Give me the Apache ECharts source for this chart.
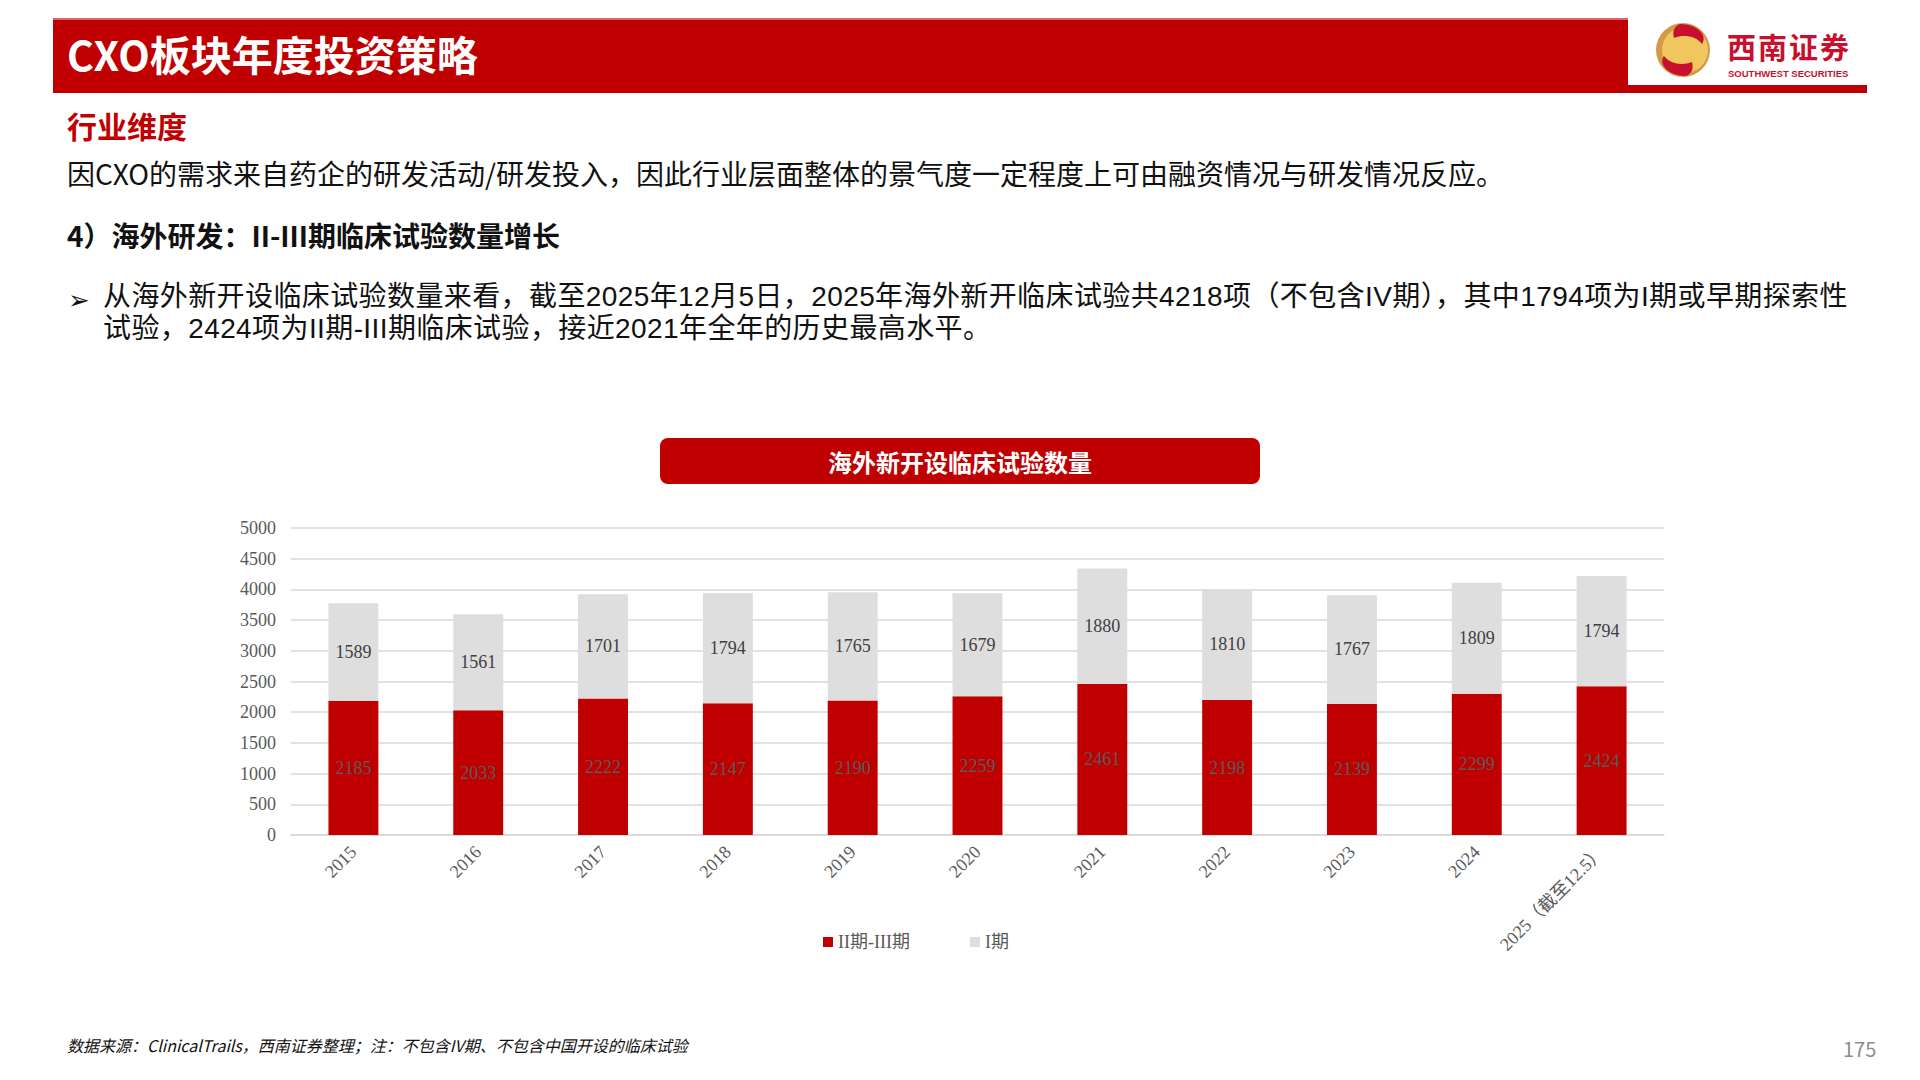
<!DOCTYPE html>
<html>
<head>
<meta charset="utf-8">
<script src="https://cdn.jsdelivr.net/npm/echarts@6/dist/echarts.min.js"></script>
<style>
  html, body { margin: 0; padding: 0; width: 1920px; height: 1080px; background: #ffffff; overflow: hidden; }
  #chart { position: absolute; left: 0; top: 0; width: 1920px; height: 1080px; }
  .t { position: absolute; white-space: nowrap; font-family: "Noto Sans CJK SC", "Noto Sans", sans-serif; }
  .b { font-family: "Liberation Sans", "Noto Sans CJK SC", sans-serif; }
</style>
</head>
<body>
<div id="chart"></div>

<!-- header -->
<div style="position:absolute;left:53px;top:18px;width:1575px;height:75px;background:#C00000;border-top:2px solid #D9676A;box-sizing:border-box;"></div>
<div style="position:absolute;left:1628px;top:85px;width:239px;height:8px;background:#C00000;"></div>
<div class="t" style="left:67px;top:19px;height:68px;line-height:68px;font-size:41px;font-weight:bold;color:#ffffff;">CXO板块年度投资策略</div>

<!-- logo -->
<svg style="position:absolute;left:1650px;top:18px;" width="220" height="66" viewBox="0 0 220 66">
  <circle cx="33" cy="32" r="27" fill="#D39A45"/>
  <circle cx="35" cy="32" r="23" fill="#F0C75E"/>
  <path d="M30 6 C48 6 58 18 52 26 C46 18 34 16 24 20 C22 12 25 8 30 6 Z" fill="#C8102E"/>
  <path d="M36 58 C18 58 8 46 14 38 C20 46 32 48 42 44 C44 52 41 56 36 58 Z" fill="#C8102E"/>
  <text x="77" y="41" font-family="Noto Sans CJK SC" font-weight="bold" font-size="29" fill="#C8102E" letter-spacing="2">西南证券</text>
  <text x="78" y="59" font-family="Liberation Sans, Arial" font-weight="bold" font-size="9.5" fill="#C8102E">SOUTHWEST SECURITIES</text>
</svg>

<!-- texts -->
<div class="t" style="left:67px;top:107px;font-size:30px;line-height:36px;font-weight:bold;color:#C00000;">行业维度</div>
<div class="t" style="left:67px;top:157px;font-size:28px;line-height:32px;color:#111111;">因CXO的需求来自药企的研发活动/研发投入，因此行业层面整体的景气度一定程度上可由融资情况与研发情况反应。</div>
<div class="t" style="left:67px;top:219px;font-size:28px;line-height:32px;font-weight:bold;color:#111111;">4）海外研发：II-III期临床试验数量增长</div>
<div class="t" style="left:68px;top:283px;font-size:26px;line-height:30px;color:#111111;">➢</div>
<div class="t b" style="left:103px;top:281px;font-size:28px;line-height:32px;color:#111111;letter-spacing:0.4px;">从海外新开设临床试验数量来看，截至2025年12月5日，2025年海外新开临床试验共4218项（不包含IV期），其中1794项为I期或早期探索性</div>
<div class="t b" style="left:103px;top:313px;font-size:28px;line-height:32px;color:#111111;letter-spacing:0.4px;">试验，2424项为II期-III期临床试验，接近2021年全年的历史最高水平。</div>

<div class="t" style="left:67px;top:1033px;font-size:16px;line-height:24px;font-style:italic;color:#111111;">数据来源：ClinicalTrails，西南证券整理；注：不包含IV期、不包含中国开设的临床试验</div>
<div class="t" style="left:1843px;top:1036px;font-size:20px;line-height:26px;color:#8C8C8C;">175</div>

<script>
const categories = ['2015', '2016', '2017', '2018', '2019', '2020', '2021', '2022', '2023', '2024', '2025（截至12.5）'];
const phase23 = [2185, 2033, 2222, 2147, 2190, 2259, 2461, 2198, 2139, 2299, 2424];
const phase1 = [1589, 1561, 1701, 1794, 1765, 1679, 1880, 1810, 1767, 1809, 1794];
const seriesNames = ['II期-III期', 'I期'];
const chartTitle = '海外新开设临床试验数量';
const yMin = 0, yMax = 5000, yStep = 500;

const serif = 'Liberation Serif, "Times New Roman", "Noto Sans CJK SC", serif';
const chart = echarts.init(document.getElementById('chart'), null, { renderer: 'svg' });
chart.setOption({
  animation: false,
  backgroundColor: 'transparent',
  title: {
    text: chartTitle,
    left: 660,
    top: 438,
    backgroundColor: '#C00000',
    borderRadius: 8,
    padding: [11, 168],
    textStyle: { color: '#ffffff', fontSize: 24, fontWeight: 'bold', fontFamily: 'Noto Sans CJK SC', lineHeight: 24 }
  },
  legend: {
    data: seriesNames,
    left: 818,
    top: 928,
    icon: 'rect',
    itemWidth: 10,
    itemHeight: 10,
    itemGap: 60,
    textStyle: { color: '#595959', fontSize: 18, fontFamily: serif }
  },
  grid: { left: 291, right: 256, top: 528, bottom: 245, containLabel: false },
  xAxis: {
    type: 'category',
    data: categories,
    axisLine: { lineStyle: { color: '#D9D9D9', width: 1.5 } },
    axisTick: { show: false },
    axisLabel: { rotate: 45, color: '#595959', fontSize: 18, fontFamily: serif, margin: 14, interval: 0 }
  },
  yAxis: {
    type: 'value',
    min: yMin,
    max: yMax,
    interval: yStep,
    axisLine: { show: false },
    axisTick: { show: false },
    axisLabel: { color: '#595959', fontSize: 18, fontFamily: serif, margin: 15, formatter: function (v) { return String(v); } },
    splitLine: { lineStyle: { color: '#D9D9D9', width: 1.5 } }
  },
  series: [
    {
      name: seriesNames[0],
      type: 'bar',
      stack: 'total',
      data: phase23,
      barWidth: '40%',
      itemStyle: { color: '#C00000' },
      label: { show: true, position: 'inside', color: '#5A5A5A', fontSize: 18, fontFamily: serif }
    },
    {
      name: seriesNames[1],
      type: 'bar',
      stack: 'total',
      data: phase1,
      barWidth: '40%',
      itemStyle: { color: '#DEDEDE' },
      label: { show: true, position: 'inside', color: '#404040', fontSize: 18, fontFamily: serif }
    }
  ]
});
</script>
</body>
</html>
